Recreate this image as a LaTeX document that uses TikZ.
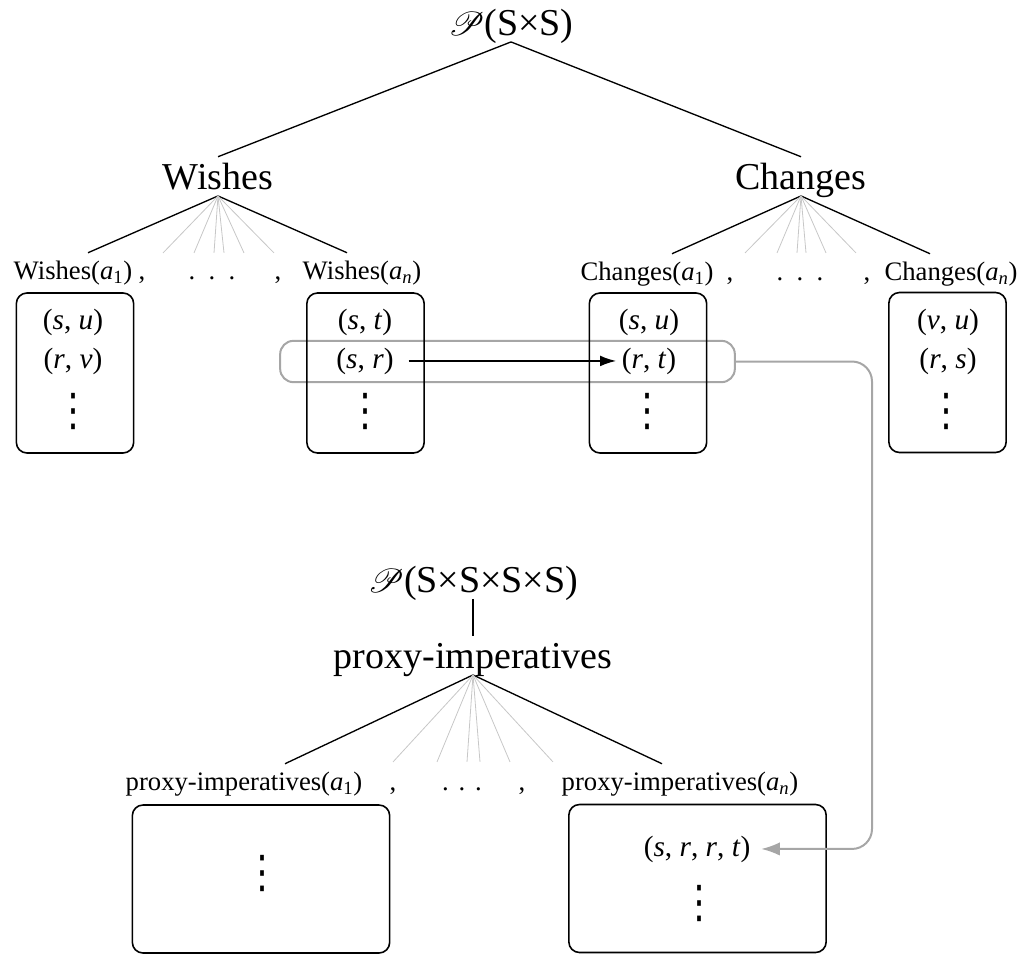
\documentclass[tikz,border=0pt]{standalone}
\usepackage{fontspec}
\setmainfont{Liberation Serif}
\newfontfamily\symfont{DejaVu Sans}
\usepackage{mathrsfs}
\usetikzlibrary{positioning,arrows.meta,calc}

\newcommand{\vr}[1]{\textit{#1}}
\newcommand{\vdts}{\scalebox{1}[1.25]{\symfont\fontsize{27}{27}\selectfont ⋮}}

\tikzset{
  big/.style={font=\fontsize{28.5}{30}\selectfont, inner sep=5pt, text height=19pt, text depth=0pt, anchor=base},
  lbl/.style={font=\fontsize{20}{22}\selectfont, inner xsep=0pt, inner ysep=5.5pt, text height=14pt, text depth=0pt, anchor=base},
  pair/.style={font=\fontsize{22}{24}\selectfont, inner sep=4pt, anchor=base},
  dts/.style={inner sep=0pt},
  setbox/.style={draw, line width=1.2pt, rounded corners=8pt, minimum width=88pt, minimum height=120pt},
  bigbox/.style={setbox, minimum width=193pt, minimum height=111pt},
  tree/.style={line width=1pt},
  fan/.style={line width=0.6pt, black!22},
  hlbox/.style={draw=black!35, line width=1.5pt, rounded corners=10pt, minimum width=341pt, minimum height=31pt},
  link/.style={black!35, line width=1.5pt, rounded corners=15pt, -{Latex[length=14pt,width=10pt]}},
  arr/.style={line width=1.3pt, -{Latex[length=12pt,width=8pt]}}
}

\begin{document}
\begin{tikzpicture}[x=0.75pt, y=-0.75pt]
\useasboundingbox (0,0) rectangle (1023,954);

% Top of the tree
\node[big] (pss) at (511,35) {$\mathscr{P}$(S×S)};
\node[big] (wish) at (218,189) {Wishes};
\node[big] (chg) at (801,189) {Changes};
\draw[tree] (pss.south) -- (wish.north);
\draw[tree] (pss.south) -- (chg.north);

% Wishes of the agents
\node[lbl] (wa1) at (73,279) {Wishes(\vr{a}\textsubscript{1})};
\node[lbl] (wc1) at (142,279) {,};
\node[lbl] (wdots) at (212,279) {.\hspace{10pt}.\hspace{10pt}.};
\node[lbl] (wc2) at (278,279) {,};
\node[lbl] (wan) at (362,279) {Wishes(\vr{a}\textsubscript{\vr{n}})};
\draw[tree] (wish.south) -- ($(wa1.north)+(15,0)$);
\draw[tree] (wish.south) -- ($(wan.north)+(-15,0)$);
\foreach \dx [count=\i] in {-55,-24,-4,6,26,56} {
  \coordinate (wf\i) at ($(wish.south)+(\dx,57)$);
  \draw[fan] (wish.south) -- (wf\i);
}

% Changes of the agents
\node[lbl] (ca1) at (647,280) {Changes(\vr{a}\textsubscript{1})};
\node[lbl] (cc1) at (730,280) {,};
\node[lbl] (cdots) at (800,280) {.\hspace{10pt}.\hspace{10pt}.};
\node[lbl] (cc2) at (867,280) {,};
\node[lbl] (can) at (951,280) {Changes(\vr{a}\textsubscript{\vr{n}})};
\draw[tree] (chg.south) -- ($(ca1.north)+(25,0)$);
\draw[tree] (chg.south) -- ($(can.north)+(-21,0)$);
\foreach \dx [count=\i] in {-56,-24,-4,5,25,55} {
  \coordinate (cf\i) at ($(chg.south)+(\dx,57)$);
  \draw[fan] (chg.south) -- (cf\i);
}

% Sets of pairs
\node[hlbox] (hl) at (507.5,361.5) {};
\node[setbox] (b1) at (75,373) {};
\node[setbox] (b2) at (365.5,373) {};
\node[setbox] (b3) at (648,373) {};
\node[setbox] (b4) at (947.5,372.5) {};

\node[pair] (su1) at (73,329) {(\vr{s}, \vr{u})};
\node[pair] (rv1) at (73,368) {(\vr{r}, \vr{v})};
\node[dts] (d1) at (73,411) {\vdts};
\node[pair] (st2) at (365,329) {(\vr{s}, \vr{t})};
\node[pair] (sr2) at (365,368) {(\vr{s}, \vr{r})};
\node[dts] (d2) at (365,411) {\vdts};
\node[pair] (su3) at (649,329) {(\vr{s}, \vr{u})};
\node[pair] (rt3) at (649,368) {(\vr{r}, \vr{t})};
\node[dts] (d3) at (647,411) {\vdts};
\node[pair] (vu4) at (948,329) {(\vr{v}, \vr{u})};
\node[pair] (rs4) at (948,368) {(\vr{r}, \vr{s})};
\node[dts] (d4) at (946,411) {\vdts};

\draw[arr, shorten <=7pt] (sr2) -- (rt3);

% Proxy-imperatives
\node[big] (p4) at (473,592) {$\mathscr{P}$(S×S×S×S)};
\node[big] (prx) at (473,668) {proxy-imperatives};
\draw[tree] (p4) -- (prx);

\node[lbl] (pia1) at (244,790) {proxy-imperatives(\vr{a}\textsubscript{1})};
\node[lbl] (pc1) at (393,790) {,};
\node[lbl] (pdots) at (462,790) {.\hspace{7.4pt}.\hspace{7.4pt}.};
\node[lbl] (pc2) at (522,790) {,};
\node[lbl] (pian) at (680,790) {proxy-imperatives(\vr{a}\textsubscript{\vr{n}})};
\draw[tree] (prx.south) -- ($(pia1.north)+(41,0)$);
\draw[tree] (prx.south) -- ($(pian.north)+(-18,0)$);
\foreach \dx [count=\i] in {-80,-36,-6,7,37,80} {
  \coordinate (pf\i) at ($(prx.south)+(\dx,87)$);
  \draw[fan] (prx.south) -- (pf\i);
}

\node[bigbox] (pb1) at (261,879) {};
\node[bigbox] (pb2) at (697.5,878.5) {};
\node[dts] (pd1) at (262,873) {\vdts};
\node[pair] (srrt) at (697,856) {(\vr{s}, \vr{r}, \vr{r}, \vr{t})};
\node[dts] (pd2) at (699,903) {\vdts};

% Link from the chosen pairs
\coordinate (bend) at (872,600);
\draw[link, shorten >=4pt] (hl.east) -| (bend) |- (srrt.east);
\end{tikzpicture}
\end{document}
